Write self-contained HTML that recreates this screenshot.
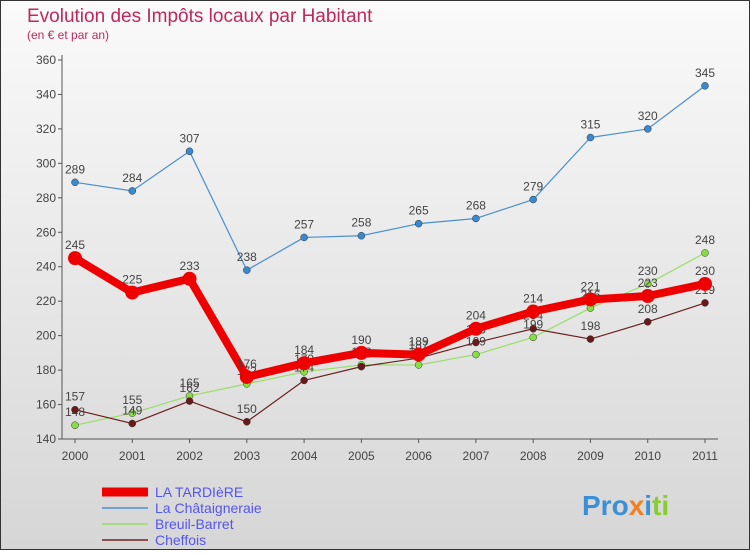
<!DOCTYPE html>
<html><head><meta charset="utf-8"><style>
body{margin:0;width:750px;height:550px;overflow:hidden;font-family:"Liberation Sans",sans-serif}
</style></head><body>
<svg width="750" height="550" xmlns="http://www.w3.org/2000/svg">
<defs><linearGradient id="bg" x1="0" y1="0" x2="0" y2="1"><stop offset="0" stop-color="#fafafa"/><stop offset="1" stop-color="#d6d6d6"/></linearGradient></defs>
<rect x="0.5" y="0.5" width="749" height="549" fill="url(#bg)" stroke="#333"/>
<text x="27" y="22" font-size="19" fill="#c0285a">Evolution des Impôts locaux par Habitant</text>
<text x="27" y="39" font-size="12" fill="#c0285a">(en € et par an)</text>
<g id="axes"></g><g id="series"></g>
<g font-size="14" fill="#5555ee">
<line x1="102" y1="492" x2="148" y2="492" stroke="#ee0000" stroke-width="9"/>
<text x="155" y="497">LA TARDIèRE</text>
<line x1="102" y1="508" x2="148" y2="508" stroke="#4a90d0" stroke-width="1.5"/>
<text x="155" y="513">La Châtaigneraie</text>
<line x1="102" y1="524" x2="148" y2="524" stroke="#99dd66" stroke-width="1.5"/>
<text x="155" y="529">Breuil-Barret</text>
<line x1="102" y1="540" x2="148" y2="540" stroke="#6b2020" stroke-width="1.5"/>
<text x="155" y="545">Cheffois</text>
</g>
<text x="582" y="515" font-size="28" font-weight="bold"><tspan fill="#3a8fd8">Pro</tspan><tspan fill="#f08020">x</tspan><tspan fill="#3a8fd8">i</tspan><tspan fill="#88cc33">ti</tspan></text>
</svg>
<script>
const years=[2000,2001,2002,2003,2004,2005,2006,2007,2008,2009,2010,2011];
const yTicks=[140,160,180,200,220,240,260,280,300,320,340,360];
const tardiere=[245,225,233,176,184,190,189,204,214,221,223,230];
const chataigneraie=[289,284,307,238,257,258,265,268,279,315,320,345];
const breuil=[148,155,165,172,179,183,183,189,199,216,230,248];
const cheffois=[157,149,162,150,174,182,187,196,204,198,208,219];
const NS="http://www.w3.org/2000/svg";
const X=i=>75+i*(630/11), Y=v=>439-(v-140)*(379/220);
function mk(t,a,p){const e=document.createElementNS(NS,t);for(const k in a)e.setAttribute(k,a[k]);p.appendChild(e);return e;}
const ax=document.getElementById('axes');
const yl=mk('line',{x1:62,y1:55,x2:62,y2:439,stroke:'#555'},ax);


const xl=mk('line',{x1:62,y1:439,x2:718,y2:439,stroke:'#555'},ax);


yTicks.forEach(v=>{const t=mk('text',{x:56,y:Y(v)+4,'text-anchor':'end','font-size':12,fill:'#444'},ax);t.textContent=v;


mk('line',{x1:58,y1:Y(v),x2:62,y2:Y(v),stroke:'#555'},ax);});
years.forEach((y,i)=>{const t=mk('text',{x:X(i),y:460,'text-anchor':'middle','font-size':12,fill:'#444'},ax);t.textContent=y;


mk('line',{x1:X(i),y1:439,x2:X(i),y2:443,stroke:'#555'},ax);});
const sg=document.getElementById('series');
function series(d,name,col,w,r,dot){
 const g=mk('g',{},sg);
 
 
 const p=mk('polyline',{points:d.map((v,i)=>X(i)+','+Y(v)).join(' '),fill:'none',stroke:col,'stroke-width':w,'stroke-linejoin':'round'},g);
 
 
 d.forEach((v,i)=>{const c=mk('circle',{cx:X(i),cy:Y(v),r:r,fill:dot,stroke:w>3?'none':'#333','stroke-width':0.5},g);
 
 
 const t=mk('text',{x:X(i),y:Y(v)-9,'text-anchor':'middle','font-size':12,fill:'#444'},g);t.textContent=v;
 
 });
}
series(chataigneraie,'chataigneraie','#4a90d0',1.2,3.5,'#3a88d0');
series(breuil,'breuil','#99dd66',1.2,3.5,'#88dd44');
series(cheffois,'cheffois','#6b2020',1.2,3.5,'#6b1818');
series(tardiere,'tardiere','#ee0000',8,7,'#ee0000');
</script>
</body></html>
